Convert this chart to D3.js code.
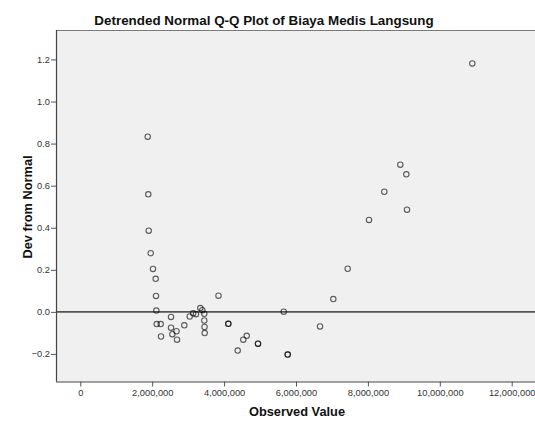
<!DOCTYPE html>
<html>
<head>
<meta charset="utf-8">
<script src="https://cdn.jsdelivr.net/npm/d3@7"></script>
<style>
  html, body { margin: 0; padding: 0; background: #fff; }
  svg { display: block; font-family: "Liberation Sans", Arial, sans-serif; }
</style>
</head>
<body>
<svg id="chart" width="535" height="424"></svg>
<script>
// Observed values (Biaya Medis Langsung)
const observed = [
  1875000, 1891000, 1903000, 1958000, 2022000, 2097000, 2106000, 2114000,
  2125000, 2236000, 2245000, 2523000, 2523000, 2559000, 2676000, 2690000,
  2893000, 3043000, 3140000, 3218000, 3338000, 3394000, 3449000, 3449000,
  3455000, 3460000, 3844000, 4117000, 4117000, 4378000, 4534000, 4629000,
  4943000, 4943000, 5658000, 5769000, 5769000, 6668000, 7038000, 7438000,
  8031000, 8456000, 8901000, 9068000, 9088000, 10904000
];
// Deviation from normal
const deviation = [
  0.833, 0.559, 0.386, 0.279, 0.204, 0.157, 0.076, 0.006,
  -0.058, -0.058, -0.117, -0.024, -0.075, -0.106, -0.092, -0.132,
  -0.064, -0.022, -0.007, -0.011, 0.018, 0.008, -0.009, -0.041,
  -0.072, -0.101, 0.077, -0.057, -0.057, -0.184, -0.132, -0.114,
  -0.151, -0.151, 0.001, -0.203, -0.203, -0.069, 0.061, 0.205,
  0.437, 0.571, 0.700, 0.654, 0.486, 1.181
];
const xTicks = [0, 2000000, 4000000, 6000000, 8000000, 10000000, 12000000];
const yTicks = [-0.2, 0.0, 0.2, 0.4, 0.6, 0.8, 1.0, 1.2];

const title = "Detrended Normal Q-Q Plot of Biaya Medis Langsung";
const xLabel = "Observed Value";
const yLabel = "Dev from Normal";

const svg = d3.select("#chart");
const m = { left: 56, top: 30, right: 535, bottom: 381.5 };

const x = d3.scaleLinear().domain([-676000, 12648000]).range([m.left, m.right]);
const y = d3.scaleLinear().domain([-0.331, 1.340]).range([m.bottom, m.top]);

// plot background
svg.append("rect")
  .attr("x", m.left).attr("y", m.top)
  .attr("width", m.right - m.left).attr("height", m.bottom - m.top)
  .attr("fill", "#f0f0f0");

// frame: top
svg.append("line").attr("x1", m.left).attr("x2", m.right).attr("y1", m.top + 0.5).attr("y2", m.top + 0.5)
  .attr("stroke", "#7a7a7a").attr("stroke-width", 1);

// reference line at 0
svg.append("line")
  .attr("x1", m.left).attr("x2", m.right)
  .attr("y1", y(0)).attr("y2", y(0))
  .attr("stroke", "#555").attr("stroke-width", 1.6);

// axes
const fmt = d3.format(",");
const xAxis = d3.axisBottom(x).tickValues(xTicks).tickFormat(d => fmt(d)).tickSize(5).tickSizeOuter(0);
const yAxis = d3.axisLeft(y).tickValues(yTicks).tickFormat(d3.format(".1f")).tickSize(5).tickSizeOuter(0);

const gx = svg.append("g").attr("transform", `translate(0,${m.bottom})`).call(xAxis);
const gy = svg.append("g").attr("transform", `translate(${m.left},0)`).call(yAxis);

[gx, gy].forEach(g => {
  g.select(".domain").attr("stroke", "#444").attr("stroke-width", 1.2);
  g.selectAll(".tick line").attr("stroke", "#555");
  g.selectAll(".tick text").attr("fill", "#333").attr("font-size", "9.3px")
    .attr("font-family", "'Liberation Sans', Arial, sans-serif");
});
gx.select(".domain").attr("d", `M${m.left},0.5H${m.right}`);
gy.select(".domain").attr("d", `M0.5,${m.top}V${m.bottom}`);
gx.selectAll(".tick text").attr("dy", "0.95em").attr("y", 6);
gy.selectAll(".tick text").attr("x", -6);

// points
const pts = observed.map((v, i) => ({ x: v, y: deviation[i] }));
svg.append("g").selectAll("circle").data(pts).join("circle")
  .attr("cx", d => x(d.x)).attr("cy", d => y(d.y)).attr("r", 2.7)
  .attr("fill", "none").attr("stroke", "#000").attr("stroke-opacity", 0.62)
  .attr("stroke-width", 1.1);

// title
svg.append("text")
  .attr("x", 264).attr("y", 24.5)
  .attr("text-anchor", "middle")
  .attr("font-size", "13.4px").attr("font-weight", "bold").attr("fill", "#111")
  .text(title);

// axis labels
svg.append("text")
  .attr("x", 297).attr("y", 416)
  .attr("text-anchor", "middle")
  .attr("font-size", "12.8px").attr("font-weight", "bold").attr("fill", "#111")
  .text(xLabel);

svg.append("text")
  .attr("transform", `translate(32,207) rotate(-90)`)
  .attr("text-anchor", "middle")
  .attr("font-size", "12.8px").attr("font-weight", "bold").attr("fill", "#111")
  .text(yLabel);
</script>
</body>
</html>
